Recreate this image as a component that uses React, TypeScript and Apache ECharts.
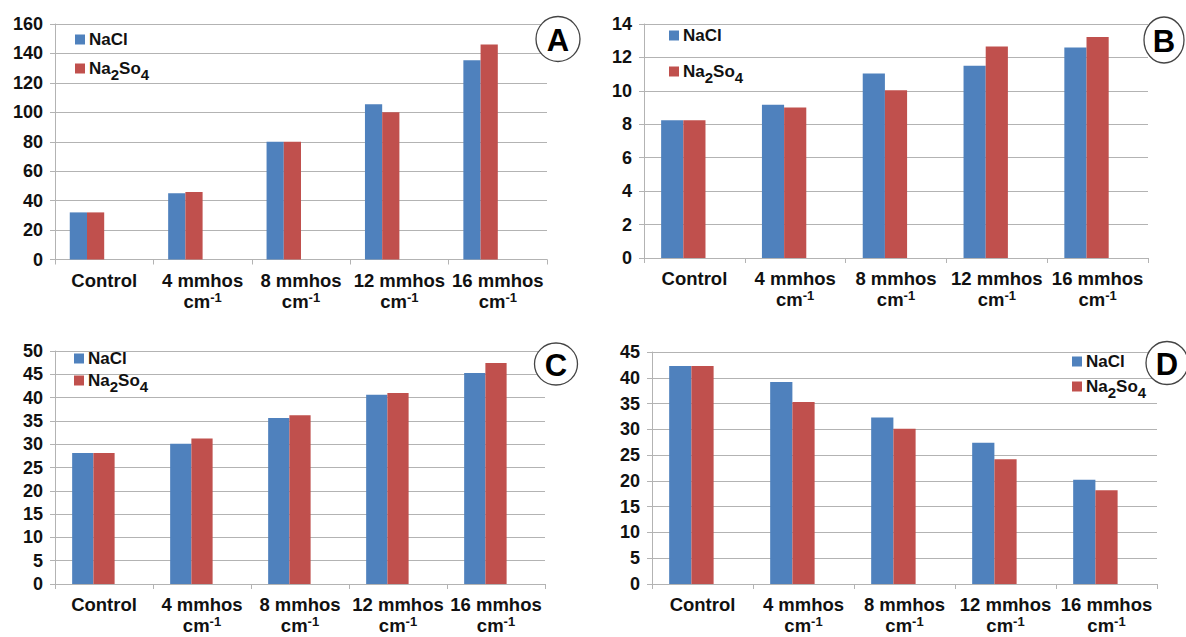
import React, { useEffect, useRef } from "react";
import * as echarts from "echarts";

const categories = ["Control", "4 mmhos", "8 mmhos", "12 mmhos", "16 mmhos"];
const seriesNames = ["NaCl", "Na2So4"];

const naclA = [32, 45, 80, 105.5, 135.3];
const na2so4A = [32, 45.8, 80, 100, 146];
const naclB = [8.24, 9.17, 11.04, 11.5, 12.59];
const na2so4B = [8.24, 9.0, 10.03, 12.65, 13.22];
const naclC = [28.1, 30.1, 35.6, 40.6, 45.3];
const na2so4C = [28.1, 31.2, 36.2, 41.0, 47.4];
const naclD = [42.3, 39.2, 32.3, 27.4, 20.2];
const na2so4D = [42.3, 35.3, 30.1, 24.2, 18.2];

const yMax = [160, 14, 50, 45];
const yStep = [20, 2, 5, 5];
const panelLetters = ["A", "B", "C", "D"];

const BLUE = "#4F81BD";
const RED = "#C0504D";
const GRID = "#B3B3B3";
const FONT = "'Liberation Sans', Arial, sans-serif";

export default function App() {
  const ref = useRef<HTMLDivElement>(null);
  useEffect(() => {
    if (!ref.current) return;
    const chart = echarts.init(ref.current, null, { renderer: "svg" });

    const data = [
      [naclA, na2so4A],
      [naclB, na2so4B],
      [naclC, na2so4C],
      [naclD, na2so4D],
    ];
    const layout = [
      { left: 55, right: 639, top: 24, height: 235.5, gap: "30%", extra: 2 },
      { left: 644, right: 38, top: 24, height: 234, gap: "34%", extra: 1 },
      { left: 55, right: 641, top: 351, height: 233, gap: "35%", extra: 1 },
      { left: 652, right: 29, top: 352, height: 232, gap: "34%", extra: 1 },
    ];
    const legendPos = [
      { left: 75, top: 31, gap: 12 },
      { left: 669, top: 27, gap: 19 },
      { left: 74, top: 350, gap: 5 },
      { left: 1072, top: 353, gap: 8 },
    ];
    const circles = [
      { cx: 558, cy: 39, rx: 22, ry: 22.5 },
      { cx: 1164, cy: 40, rx: 20, ry: 23 },
      { cx: 556, cy: 364, rx: 21.5, ry: 21 },
      { cx: 1167, cy: 363, rx: 21, ry: 21.5 },
    ];

    const grids = layout.map((l) => ({
      left: l.left,
      right: l.right,
      top: l.top,
      height: l.height,
      containLabel: false,
    }));

    const xAxes = layout.map((_, i) => ({
      type: "category",
      gridIndex: i,
      data: categories,
      axisLine: { lineStyle: { color: GRID, width: 1 } },
      axisTick: { show: true, length: 5, lineStyle: { color: GRID } },
      axisLabel: {
        interval: 0,
        margin: 10,
        color: "#111",
        fontFamily: FONT,
        fontWeight: "bold",
        fontSize: 18.5,
        lineHeight: 21,
        formatter: (v: string) => (v === "Control" ? v : v + "\n{n|cm}{u|-1}"),
        rich: {
          n: { fontFamily: FONT, fontWeight: "bold", fontSize: 18.5, lineHeight: 21, color: "#111" },
          u: {
            fontFamily: FONT,
            fontWeight: "bold",
            fontSize: 13,
            color: "#111",
            verticalAlign: "top",
          },
        },
      },
      splitLine: { show: false },
    }));

    const yAxes = layout.map((_, i) => ({
      type: "value",
      gridIndex: i,
      min: 0,
      max: yMax[i],
      interval: yStep[i],
      axisLine: { show: true, lineStyle: { color: GRID, width: 1 } },
      axisTick: { show: true, length: 5, lineStyle: { color: GRID } },
      axisLabel: {
        margin: 12,
        color: "#111",
        fontFamily: FONT,
        fontWeight: "bold",
        fontSize: 18,
      },
      splitLine: { show: true, lineStyle: { color: GRID, width: 1 } },
    }));

    const series: any[] = [];
    data.forEach((pair, i) => {
      pair.forEach((vals, k) => {
        series.push({
          type: "bar",
          name: seriesNames[k],
          xAxisIndex: i,
          yAxisIndex: i,
          data: vals,
          itemStyle: { color: k === 0 ? BLUE : RED },
          barGap: "0%",
          barCategoryGap: layout[i].gap,
          emphasis: { disabled: true },
        });
      });
      for (let e = 0; e < layout[i].extra; e++) {
        series.push({
          type: "bar",
          name: "_empty" + i + "_" + e,
          xAxisIndex: i,
          yAxisIndex: i,
          data: [],
          barGap: "0%",
          barCategoryGap: layout[i].gap,
        });
      }
    });

    const legends = legendPos.map((p) => ({
      orient: "vertical",
      left: p.left,
      top: p.top,
      padding: 0,
      itemGap: p.gap,
      itemWidth: 10,
      itemHeight: 10,
      icon: "rect",
      data: seriesNames,
      selectedMode: false,
      formatter: (name: string) =>
        name === "Na2So4" ? "{n|Na}{s|2}{n|So}{s|4}" : "{m|" + name + "}",
      textStyle: {
        fontFamily: FONT,
        fontWeight: "bold",
        fontSize: 17,
        color: "#111",
        padding: [0, 0, 0, -1],
        rich: {
          m: { fontFamily: FONT, fontWeight: "bold", fontSize: 17, lineHeight: 20, color: "#111" },
          n: { fontFamily: FONT, fontWeight: "bold", fontSize: 17, lineHeight: 26, color: "#111" },
          s: {
            fontFamily: FONT,
            fontWeight: "bold",
            fontSize: 15,
            color: "#111",
            verticalAlign: "bottom",
          },
        },
      },
    }));

    const graphic: any[] = [];
    circles.forEach((c, i) => {
      graphic.push({
        type: "ellipse",
        shape: { cx: c.cx, cy: c.cy, rx: c.rx, ry: c.ry },
        style: { fill: "#fff", stroke: "#444", lineWidth: 1.3 },
        z: 100,
      });
      graphic.push({
        type: "text",
        x: c.cx,
        y: c.cy + 1,
        style: {
          text: panelLetters[i],
          fontFamily: FONT,
          fontWeight: "bold",
          fontSize: 31,
          fill: "#000",
          align: "center",
          verticalAlign: "middle",
        },
        z: 101,
      });
    });

    chart.setOption({
      animation: false,
      backgroundColor: "#fff",
      grid: grids,
      xAxis: xAxes,
      yAxis: yAxes,
      legend: legends,
      series,
      graphic,
    });

    return () => chart.dispose();
  }, []);

  return (
    <div
      ref={ref}
      style={{ position: "fixed", left: 0, top: 0, width: 1186, height: 637, background: "#fff" }}
    />
  );
}
